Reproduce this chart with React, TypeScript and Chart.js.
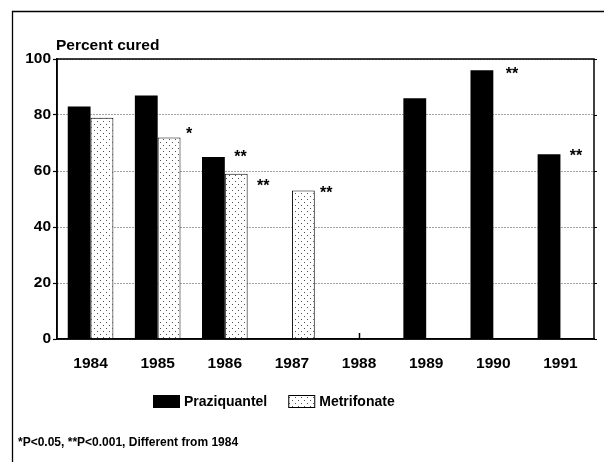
import React, { useEffect, useRef } from 'react';
import { Chart, registerables } from 'chart.js';

Chart.register(...registerables);

// ---- data ----
const years = ['1984', '1985', '1986', '1987', '1988', '1989', '1990', '1991'];
const praziquantel = [83, 87, 65, null, null, 86, 96, 66];
const metrifonate = [79, 72, 59, 53, null, null, null, null];
const yTickValues = [0, 20, 40, 60, 80, 100];
const seriesNames = ['Praziquantel', 'Metrifonate'];
const yTitle = 'Percent cured';
const footnote = '*P<0.05, **P<0.001, Different from 1984';
// significance marks: year, series index, text
const sigYears = ['1985', '1986', '1986', '1987', '1990', '1991'];
const sigSeries = [1, 0, 1, 1, 0, 0];
const sigTexts = ['*', '**', '**', '**', '**', '**'];

// layout nudges (pixels) for the marks, relative to bar centre / top
const sigNudge: [number, number][] = [[20, -7], [27, -4], [27, 8], [23, -2], [30, 0], [27, -2]];

const FONT = '"Liberation Sans", Arial, Helvetica, sans-serif';

function makeDots(): CanvasPattern | string {
  const c = document.createElement('canvas');
  c.width = 6;
  c.height = 6;
  const g = c.getContext('2d');
  if (!g) return '#ddd';
  g.fillStyle = '#fff';
  g.fillRect(0, 0, 6, 6);
  g.fillStyle = '#555';
  g.fillRect(1, 1, 1, 1);
  g.fillRect(4, 4, 1, 1);
  return g.createPattern(c, 'repeat') || '#ddd';
}

const decor = {
  id: 'decor',
  beforeDatasetsDraw(chart: any) {
    const { ctx, chartArea, scales } = chart;
    const x = scales.x;
    ctx.save();
    ctx.strokeStyle = '#000';
    ctx.lineWidth = 1.5;
    years.forEach((_, i) => {
      if (praziquantel[i] != null || metrifonate[i] != null) return;
      const px = Math.round(x.getPixelForValue(i)) + 0.5;
      ctx.beginPath();
      ctx.moveTo(px, chartArea.bottom);
      ctx.lineTo(px, chartArea.bottom - 6);
      ctx.stroke();
    });
    ctx.restore();
  },
  afterDraw(chart: any) {
    const { ctx, chartArea, scales } = chart;
    const y = scales.y;
    ctx.save();

    // outer frame
    ctx.strokeStyle = '#000';
    ctx.lineWidth = 1.3;
    ctx.beginPath();
    ctx.moveTo(12.5, chart.height + 2);
    ctx.lineTo(12.5, 11.5);
    ctx.lineTo(chart.width + 2, 11.5);
    ctx.stroke();

    // plot box
    ctx.lineWidth = 1.5;
    ctx.strokeRect(chartArea.left, chartArea.top, chartArea.right - chartArea.left, chartArea.bottom - chartArea.top);
    // small ticks on right border
    ctx.lineWidth = 1;
    yTickValues.forEach((v) => {
      const py = Math.round(y.getPixelForValue(v)) + 0.5;
      ctx.beginPath();
      ctx.moveTo(chartArea.right, py);
      ctx.lineTo(chartArea.right + 3, py);
      ctx.stroke();
    });

    // axis title
    ctx.fillStyle = '#000';
    ctx.font = `bold 15.5px ${FONT}`;
    ctx.textAlign = 'left';
    ctx.textBaseline = 'alphabetic';
    ctx.fillText(yTitle, chartArea.left - 1, chartArea.top - 9);

    // significance marks
    ctx.font = `bold 16px ${FONT}`;
    ctx.textAlign = 'center';
    sigYears.forEach((yr, k) => {
      const idx = years.indexOf(yr);
      const meta = chart.getDatasetMeta(sigSeries[k]);
      const bar = meta.data[idx];
      if (!bar) return;
      const [dx, dy] = sigNudge[k];
      ctx.fillText(sigTexts[k], bar.x + dx, bar.y + dy + 9);
    });

    // legend
    ctx.font = `bold 14px ${FONT}`;
    ctx.textAlign = 'left';
    ctx.textBaseline = 'middle';
    let lx = 153;
    const ly = 395;
    chart.data.datasets.forEach((ds: any) => {
      ctx.fillStyle = ds.backgroundColor;
      ctx.fillRect(lx, ly, 27, 13);
      ctx.strokeStyle = '#000';
      ctx.lineWidth = 1;
      ctx.strokeRect(lx + 0.5, ly + 0.5, 26, 12);
      ctx.fillStyle = '#000';
      ctx.fillText(ds.label, lx + 31, ly + 7);
      lx = lx + 31 + ctx.measureText(ds.label).width + 21;
    });

    // footnote
    ctx.font = `bold 12px ${FONT}`;
    ctx.fillText(footnote, 18, 443);

    ctx.restore();
  },
};

export default function App() {
  const ref = useRef<HTMLCanvasElement | null>(null);

  useEffect(() => {
    if (!ref.current) return;
    const dots = makeDots();
    const chart = new Chart(ref.current, {
      type: 'bar',
      data: {
        labels: years,
        datasets: [
          {
            label: seriesNames[0],
            data: praziquantel,
            backgroundColor: '#000',
            borderWidth: 0,
          },
          {
            label: seriesNames[1],
            data: metrifonate,
            backgroundColor: dots as any,
            borderColor: '#000',
            borderWidth: 1,
          },
        ],
      },
      options: {
        responsive: false,
        animation: false,
        devicePixelRatio: 1,
        layout: { padding: { top: 59, right: 10, bottom: 93, left: 0 } },
        datasets: { bar: { categoryPercentage: 0.68, barPercentage: 1 } },
        plugins: {
          legend: { display: false },
          tooltip: { enabled: false },
          title: { display: false },
        },
        scales: {
          x: {
            grid: { display: false },
            border: { display: true, color: '#000', width: 1.5 },
            ticks: {
              color: '#000',
              font: { family: FONT, size: 15.5, weight: 'bold' },
              padding: 7,
            },
            afterFit: (s: any) => {
              s.height = 30;
            },
          },
          y: {
            min: 0,
            max: 100,
            afterBuildTicks: (s: any) => {
              s.ticks = yTickValues.map((v) => ({ value: v }));
            },
            grid: {
              color: '#444',
              lineWidth: 1,
              drawTicks: true,
              tickLength: 4,
              tickColor: '#000',
              tickWidth: 1.2,
            },
            border: { display: true, color: '#000', width: 1.5, dash: [1, 2] },
            ticks: {
              color: '#000',
              font: { family: FONT, size: 15.5, weight: 'bold' },
              padding: 2,
            },
            afterFit: (s: any) => {
              s.width = 57;
            },
          },
        },
      },
      plugins: [decor],
    });
    return () => chart.destroy();
  }, []);

  return (
    <div style={{ position: 'fixed', left: 0, top: 0, width: 604, height: 462, background: '#fff' }}>
      <canvas ref={ref} width={604} height={462} style={{ display: 'block' }} />
    </div>
  );
}
